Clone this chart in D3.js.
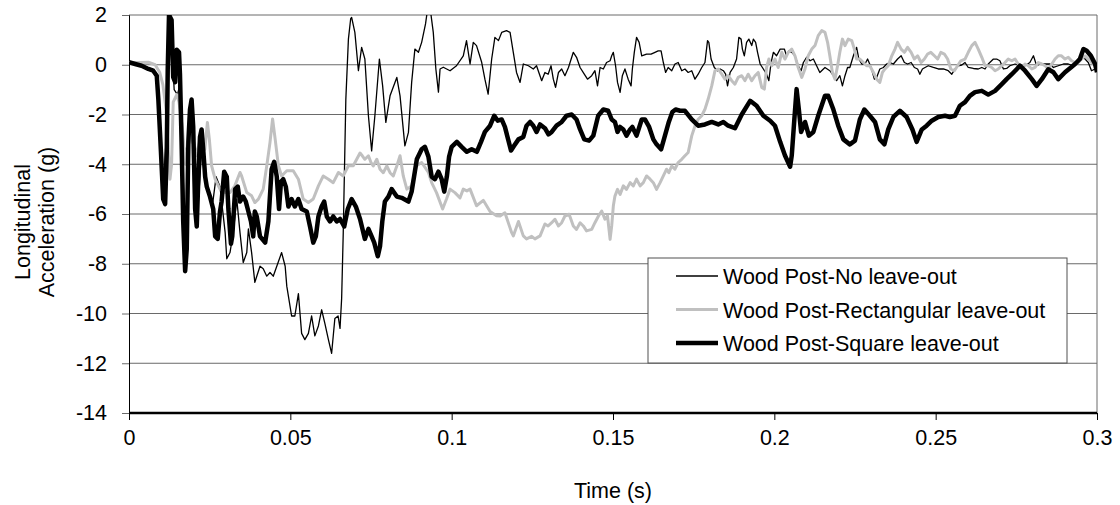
<!DOCTYPE html>
<html lang="en">
    <head>
        <meta charset="utf-8">
        <title>Longitudinal Acceleration</title>
        <script type="text/javascript" src="https://d3js.org/d3.v7.min.js"></script>
        <style type="text/css">
            body {
                margin: 0;
                background-color: #ffffff;
            }
            text {
                font-family: "Liberation Sans", Arial, sans-serif;
                font-size: 21.5px;
                fill: #000;
            }
        </style>
    </head>
    <body>
        <script type="text/javascript">

            // time in ms, acceleration in g
            var noLeaveOut = [[0,0.1],[3.9,0.0],[7.5,-0.2],[8.6,-0.5],[9.5,-2.5],[10.6,-5.0],[11.5,-3.0],[12.2,1.0],[13.0,1.5],[14.0,-1.0],[15.0,-1.2],[15.8,-0.8],[16.8,-4.5],[17.5,-7.5],[18.2,-5.0],[19.0,-2.0],[20.5,-4.5],[21.5,-5.5],[22.5,-3.5],[24.0,-4.8],[26.0,-5.5],[27.0,-4.5],[28.2,-4.9],[29.8,-6.75],[30.3,-7.8],[31.3,-7.55],[32.3,-6.75],[33.4,-5.4],[34.4,-6.75],[35.4,-7.95],[36.5,-7.55],[37.0,-6.6],[38.0,-7.55],[39.0,-8.75],[39.6,-8.5],[40.6,-8.1],[41.6,-8.2],[42.7,-8.5],[43.7,-8.35],[44.7,-8.5],[45.8,-8.1],[47.3,-7.55],[48.4,-8.1],[48.9,-8.9],[50.4,-10.1],[51.4,-10.1],[52.5,-9.2],[53.5,-10.8],[54.5,-11.05],[55.6,-10.8],[56.6,-10.1],[57.6,-10.9],[58.7,-10.5],[59.7,-9.85],[60.7,-10.4],[61.8,-11.05],[62.8,-11.6],[63.8,-10.2],[64.8,-10.1],[65.4,-10.6],[65.9,-9.4],[66.4,-6.75],[67.2,-1.4],[68.0,1.03],[68.7,1.85],[69.0,1.9],[70.0,1.3],[71.1,-0.24],[72.1,0.7],[73.1,0.23],[74.2,-2.05],[75.2,-3.46],[76.2,-2.05],[77.6,0.23],[78.6,-0.84],[79.6,-2.32],[80.9,-1.25],[83.0,-0.51],[84.0,-1.25],[85.5,-3.26],[86.6,-2.72],[87.6,-0.71],[88.6,0.63],[89.7,0.5],[90.7,0.9],[91.9,1.64],[92.6,2.3],[93.3,2.3],[94.3,1.3],[95.1,-0.17],[95.9,-1.1],[96.4,-0.17],[97.4,-0.1],[99.5,-0.24],[101.5,-0.04],[103.6,0.36],[104.6,0.97],[105.7,0.03],[106.7,0.9],[107.7,0.77],[109.3,0.1],[110.3,-0.58],[111.3,-1.18],[112.4,0.23],[113.4,1.1],[114.5,0.97],[115.5,1.3],[117.0,1.37],[118.1,1.3],[119.1,0.5],[120.1,-0.31],[121.2,-0.71],[122.2,0.03],[123.8,-0.04],[125.3,-0.17],[126.3,-0.04],[127.9,-0.64],[128.9,-0.31],[129.9,-0.38],[130.8,-0.04],[131.5,-0.58],[132.2,-0.91],[133.1,-0.31],[134.1,-0.17],[135.1,-0.44],[136.2,-0.11],[137.7,0.5],[138.7,0.3],[139.8,-0.11],[141.1,-0.38],[142.1,-0.58],[143.4,-0.44],[144.4,-0.24],[145.2,-0.85],[146.0,-0.11],[147.0,-0.17],[148.0,0.09],[149.1,0.16],[149.6,0.36],[150.1,0.5],[150.8,-0.04],[151.4,-0.71],[152.2,-1.11],[152.9,-0.44],[153.7,-0.17],[154.7,-0.58],[155.6,-0.85],[156.0,-0.17],[156.6,0.5],[157.3,1.1],[158.1,0.9],[158.9,0.36],[160.4,0.43],[161.8,0.43],[163.0,0.5],[164.0,0.56],[164.9,0.56],[165.6,0.09],[166.3,-0.31],[167.1,-0.11],[168.2,-0.24],[169.2,0.03],[170.2,0.09],[171.3,-0.24],[172.3,-0.17],[173.3,-0.31],[174.4,-0.24],[175.4,-0.58],[176.4,-0.38],[177.5,-0.11],[178.5,0.09],[179.3,0.97],[179.7,0.9],[180.4,0.23],[181.4,-0.11],[182.4,-0.24],[183.2,-0.17],[184.2,-0.24],[184.9,-0.38],[185.5,-0.85],[186.3,-0.31],[187.3,-0.11],[188.3,0.23],[189.0,1.1],[189.7,1.03],[190.1,0.63],[190.7,0.36],[191.4,0.9],[192.1,1.03],[193.0,0.77],[193.5,1.03],[194.2,0.9],[194.8,0.5],[195.6,0.03],[196.6,-0.17],[197.6,-0.38],[198.3,-0.64],[199.0,0.09],[199.7,0.5],[200.7,0.36],[201.8,0.63],[203.1,0.63],[203.8,0.36],[204.5,0.56],[205.4,0.5],[206.4,0.36],[207.4,-0.04],[208.3,-0.24],[209.0,0.09],[210.0,0.3],[211.1,0.16],[212.1,0.23],[213.1,-0.04],[214.1,-0.31],[215.7,-0.11],[217.2,-0.24],[218.3,-0.44],[219.3,-0.64],[220.3,-0.44],[221.1,-0.85],[221.9,-0.44],[222.7,-0.11],[223.4,-0.11],[224.5,0.36],[225.5,0.7],[226.2,0.23],[227.1,0.03],[228.1,0.03],[228.9,0.23],[230.0,-0.11],[231.0,-0.58],[231.7,-0.51],[232.7,-0.17],[233.8,-0.11],[234.8,0.03],[235.8,0.09],[236.9,0.03],[238.2,0.23],[239.3,0.36],[240.3,0.09],[241.3,0.03],[242.4,0.09],[243.4,-0.11],[244.4,-0.17],[245.1,-0.38],[245.9,-0.17],[246.7,-0.11],[247.7,-0.04],[249.3,-0.11],[250.8,-0.17],[252.4,-0.17],[253.9,-0.24],[255.0,-0.38],[256.0,-0.17],[257.0,-0.04],[258.1,-0.01],[259.1,0.09],[260.1,-0.11],[261.7,-0.15],[263.2,-0.17],[264.3,-0.11],[265.3,-0.17],[266.3,0.03],[267.9,0.23],[268.9,0.23],[269.9,0.16],[271.0,-0.17],[272.0,-0.15],[273.0,-0.04],[274.6,0.03],[276.1,-0.04],[277.7,-0.04],[279.2,0.09],[280.3,0.36],[281.3,-0.04],[282.3,0.03],[283.9,0.03],[285.4,0.03],[286.5,-0.11],[288.0,-0.04],[289.6,0.03],[291.1,0.03],[292.7,-0.04],[294.2,0.23],[295.8,0.3],[297.3,0.09],[298.3,-0.24],[299.4,-0.17],[300.0,-0.04]];

            var rectLeaveOut = [[0,0.09],[2.9,0.09],[6.0,0.1],[8.1,0.0],[9.5,-0.3],[10.5,-0.8],[11.5,-1.8],[12.2,-3.5],[12.7,-4.6],[13.2,-4.0],[13.7,-1.5],[14.8,-1.2],[15.5,-1.5],[16.5,-2.5],[17.5,-4.0],[17.9,-3.4],[19.5,-2.8],[21.0,-3.66],[22.5,-2.72],[23.5,-3.4],[24.3,-2.32],[24.9,-2.99],[25.6,-4.06],[26.7,-4.6],[28.2,-5.0],[29.8,-5.14],[31.3,-5.14],[32.8,-4.87],[34.4,-4.33],[34.9,-4.47],[36.5,-5.14],[38.0,-5.27],[39.0,-5.54],[40.1,-5.4],[41.6,-5.0],[42.7,-4.06],[43.7,-3.12],[44.5,-2.18],[45.3,-2.99],[46.3,-4.06],[47.3,-4.47],[48.9,-4.26],[50.9,-4.26],[52.5,-4.6],[54.0,-5.4],[55.6,-5.54],[57.1,-5.4],[58.7,-4.87],[60.2,-4.47],[61.8,-4.6],[63.3,-4.74],[64.9,-4.33],[66.4,-4.47],[68.0,-4.06],[69.5,-4.06],[71.6,-3.55],[72.3,-3.66],[73.1,-3.8],[74.2,-3.66],[75.0,-3.93],[75.7,-4.07],[76.8,-3.8],[77.8,-4.2],[78.8,-4.34],[79.9,-4.07],[80.9,-4.34],[81.9,-4.47],[83.0,-4.07],[84.0,-3.66],[85.0,-4.47],[86.1,-5.0],[87.6,-4.87],[89.1,-4.06],[90.7,-3.93],[92.8,-4.33],[93.8,-4.74],[95.3,-5.14],[97.2,-5.8],[98.4,-5.4],[99.5,-5.0],[101.0,-5.14],[102.6,-5.35],[103.6,-5.0],[104.7,-5.07],[105.7,-5.0],[107.7,-5.67],[109.8,-5.45],[111.9,-5.9],[113.9,-6.07],[115.0,-6.08],[116.5,-5.95],[118.6,-6.75],[119.1,-6.88],[120.7,-6.3],[122.2,-6.88],[123.2,-7.0],[124.8,-6.9],[125.8,-7.0],[127.4,-6.88],[128.9,-6.4],[129.9,-6.48],[131.0,-6.35],[132.0,-6.21],[133.1,-6.48],[134.1,-6.35],[135.1,-6.08],[136.4,-6.01],[137.7,-6.48],[138.7,-6.62],[139.8,-6.35],[140.8,-6.48],[141.8,-6.68],[143.4,-6.62],[144.4,-6.35],[145.5,-6.08],[146.5,-5.88],[147.5,-6.21],[148.3,-6.08],[149.1,-7.02],[149.6,-6.48],[150.1,-5.68],[150.6,-5.28],[151.4,-5.01],[152.2,-5.21],[153.2,-4.87],[154.2,-5.01],[155.3,-4.74],[156.3,-4.87],[157.3,-4.6],[158.4,-4.87],[159.4,-4.74],[160.4,-4.47],[161.5,-4.6],[162.5,-4.74],[163.5,-5.01],[164.6,-4.74],[165.6,-4.47],[166.6,-4.2],[167.3,-4.34],[168.2,-4.07],[169.2,-4.2],[170.2,-3.93],[171.3,-3.8],[172.3,-3.66],[173.3,-3.53],[174.4,-2.86],[175.4,-2.46],[176.4,-2.19],[177.5,-2.05],[178.5,-1.79],[179.5,-1.38],[180.6,-0.85],[181.6,-0.24],[182.6,-0.17],[183.7,-0.38],[184.7,-0.58],[185.7,-0.44],[186.8,-0.64],[187.8,-0.78],[188.8,-0.51],[189.9,-0.44],[190.9,-0.64],[191.9,-0.38],[193.0,-0.64],[194.0,-0.44],[195.0,-0.31],[196.1,-0.91],[196.9,-0.98],[197.6,-0.11],[198.3,0.23],[199.2,-0.04],[200.2,0.23],[201.2,-0.11],[202.3,0.5],[203.3,0.23],[204.3,0.5],[205.4,0.63],[206.4,0.36],[207.4,-0.11],[208.5,-0.51],[209.5,-0.17],[210.5,0.36],[211.6,0.63],[212.6,0.77],[213.6,1.17],[214.7,1.37],[215.7,1.3],[216.5,0.9],[217.2,0.36],[218.0,-0.31],[218.8,-0.58],[219.6,-0.04],[220.3,0.5],[221.1,1.03],[221.9,0.77],[222.9,1.03],[224.0,0.97],[224.8,0.63],[225.5,0.23],[226.5,0.23],[227.6,0.09],[228.6,-0.04],[229.6,-0.04],[230.7,-0.31],[231.7,-0.58],[232.7,-0.71],[233.5,-0.31],[234.3,-0.17],[235.3,-0.04],[236.4,0.36],[237.4,0.63],[238.2,0.9],[239.3,0.63],[240.3,0.5],[241.3,0.7],[242.4,0.5],[243.4,0.23],[244.4,0.36],[245.5,0.09],[246.5,0.23],[247.5,0.43],[248.5,0.5],[249.6,0.36],[250.6,0.23],[251.6,0.5],[252.7,0.43],[253.7,0.23],[254.7,-0.17],[255.8,-0.24],[256.8,-0.04],[257.8,0.16],[259.1,0.23],[260.1,0.5],[261.2,0.77],[262.2,0.9],[263.2,0.63],[264.3,0.3],[265.3,-0.04],[266.3,-0.04],[267.4,-0.11],[268.4,-0.24],[269.4,-0.17],[270.5,-0.04],[271.5,0.09],[272.5,0.23],[273.6,0.16],[274.6,0.23],[275.6,0.03],[276.7,-0.11],[277.7,0.03],[278.7,-0.04],[279.8,-0.17],[280.8,-0.11],[281.8,0.09],[282.9,0.03],[283.9,-0.04],[284.9,-0.17],[286.0,0.03],[287.0,0.23],[288.0,0.36],[289.0,0.36],[290.1,0.23],[291.1,0.3],[292.1,0.16],[293.2,0.09],[294.2,0.09],[295.2,0.23],[296.3,0.36],[297.3,0.23],[298.3,0.09],[300.0,-0.04]];

            var squareLeaveOut = [[0,0.1],[1.9,0.03],[3.9,-0.04],[6.0,-0.17],[7.5,-0.24],[8.6,-0.44],[9.1,-1.4],[9.9,-3.5],[10.6,-5.4],[11.2,-5.6],[11.7,-3.5],[12.0,-0.2],[12.4,2.0],[13.2,1.8],[13.7,-0.5],[14.3,-0.7],[14.8,0.6],[15.5,0.5],[15.8,-0.4],[16.3,-3.1],[16.8,-6.3],[17.4,-8.3],[17.9,-7.4],[18.4,-3.1],[18.9,-1.8],[19.4,-1.4],[19.9,-2.5],[20.5,-5.8],[21.0,-6.5],[21.5,-4.5],[22.0,-2.9],[22.5,-2.6],[23.0,-3.4],[23.6,-4.5],[24.1,-4.9],[25.1,-5.3],[26.1,-5.8],[26.7,-6.9],[27.5,-7.0],[28.2,-5.9],[28.7,-5.5],[29.5,-4.3],[30.3,-4.5],[30.8,-5.8],[31.6,-7.2],[32.0,-6.9],[32.9,-5.0],[33.7,-4.9],[34.4,-5.5],[35.4,-5.3],[36.2,-5.5],[37.0,-5.9],[37.8,-6.3],[38.5,-6.9],[39.0,-5.9],[39.6,-6.1],[40.6,-6.9],[42.2,-7.15],[43.2,-6.3],[44.2,-4.2],[45.0,-3.9],[45.8,-4.5],[46.5,-5.8],[47.1,-4.7],[47.8,-4.6],[48.6,-4.9],[49.4,-5.7],[50.4,-5.4],[51.4,-5.7],[52.5,-5.4],[53.5,-5.8],[55.1,-5.9],[56.1,-6.5],[57.1,-7.15],[57.9,-6.9],[58.7,-6.1],[59.7,-5.7],[60.5,-5.5],[61.3,-6.1],[62.3,-6.3],[63.3,-6.1],[64.4,-6.3],[65.4,-6.2],[66.7,-6.5],[67.8,-5.8],[69.0,-5.4],[70.3,-5.7],[71.6,-6.2],[73.1,-7.0],[74.2,-6.6],[75.2,-6.9],[76.0,-7.15],[77.1,-7.7],[77.8,-7.3],[78.5,-6.3],[79.3,-5.5],[80.4,-5.3],[81.4,-5.0],[83.0,-5.3],[84.5,-5.35],[86.6,-5.5],[87.6,-5.1],[89.2,-3.8],[90.7,-3.4],[91.7,-3.3],[92.8,-3.7],[93.8,-4.5],[94.8,-4.6],[95.9,-4.3],[96.9,-4.6],[97.7,-5.1],[98.5,-4.5],[99.2,-3.7],[100.0,-3.3],[101.6,-3.1],[103.1,-3.3],[104.7,-3.5],[106.2,-3.4],[107.8,-3.5],[109.1,-3.1],[110.3,-2.7],[111.9,-2.45],[113.2,-2.05],[114.3,-2.25],[115.5,-2.2],[116.5,-2.5],[117.6,-3.05],[118.4,-3.45],[119.4,-3.25],[120.7,-3.0],[122.2,-2.9],[123.2,-2.45],[124.3,-2.3],[125.3,-2.45],[126.3,-2.7],[127.4,-2.4],[128.9,-2.55],[130.0,-2.8],[131.0,-2.7],[132.5,-2.45],[134.1,-2.3],[135.6,-2.05],[137.2,-2.0],[138.7,-2.2],[139.8,-2.6],[141.1,-3.0],[142.6,-3.05],[143.9,-2.85],[145.4,-2.05],[147.0,-1.8],[148.5,-1.85],[149.6,-2.2],[150.6,-2.3],[151.4,-2.7],[152.2,-2.5],[153.2,-2.6],[154.2,-2.85],[155.3,-2.6],[156.0,-2.5],[157.3,-2.85],[158.9,-2.2],[159.9,-2.2],[161.2,-2.5],[162.5,-3.0],[163.5,-3.2],[164.9,-3.4],[166.1,-2.85],[167.3,-2.3],[168.4,-1.9],[169.4,-1.8],[170.8,-1.85],[172.3,-1.85],[174.4,-2.2],[176.4,-2.45],[178.5,-2.4],[180.6,-2.3],[182.6,-2.4],[184.2,-2.3],[185.7,-2.45],[187.8,-2.55],[189.9,-2.0],[192.5,-1.45],[194.5,-1.65],[196.6,-2.05],[198.7,-2.25],[200.2,-2.45],[201.8,-3.1],[203.3,-3.65],[204.9,-4.1],[205.4,-3.65],[206.2,-2.2],[206.9,-0.98],[207.6,-1.8],[208.3,-2.7],[209.5,-2.3],[210.7,-2.85],[212.1,-2.7],[213.6,-2.05],[215.7,-1.25],[216.7,-1.25],[218.3,-1.8],[219.8,-2.45],[221.4,-3.0],[223.4,-3.2],[225.0,-3.05],[226.5,-2.2],[227.9,-1.8],[229.6,-2.05],[231.2,-2.3],[232.7,-3.0],[234.1,-3.2],[235.3,-2.6],[236.9,-2.1],[238.9,-1.85],[241.0,-2.1],[242.8,-2.6],[244.1,-3.1],[245.7,-2.6],[247.2,-2.45],[248.8,-2.25],[250.8,-2.1],[252.9,-2.05],[254.4,-2.1],[256.0,-2.05],[257.5,-1.65],[259.1,-1.5],[260.6,-1.25],[262.2,-1.1],[264.3,-1.05],[266.3,-1.2],[268.4,-1.05],[270.5,-0.78],[272.0,-0.58],[273.6,-0.38],[275.1,-0.18],[276.1,-0.04],[277.7,-0.24],[279.8,-0.58],[281.3,-0.85],[282.9,-0.58],[284.9,-0.18],[286.5,-0.3],[288.0,-0.58],[290.1,-0.3],[292.0,-0.1],[293.2,0.03],[294.7,0.23],[295.8,0.63],[296.8,0.56],[298.1,0.36],[299.4,0.03],[300.0,-0.3]];

            var seriesNames = ["Wood Post-No leave-out", "Wood Post-Rectangular leave-out", "Wood Post-Square leave-out"];
            var xTicks = [0, 0.05, 0.1, 0.15, 0.2, 0.25, 0.3];
            var xTickLabels = ["0", "0.05", "0.1", "0.15", "0.2", "0.25", "0.3"];
            var yTicks = [2, 0, -2, -4, -6, -8, -10, -12, -14];

            var w = 1120;
            var h = 505;
            var plotLeft = 129, plotRight = 1097, plotTop = 15, plotBottom = 413;

            var svg = d3.select('body').append('svg').attr('width', w).attr('height', h);

            var x = d3.scaleLinear().domain([0, 0.3]).range([plotLeft, plotRight]);
            var y = d3.scaleLinear().domain([-14, 2]).range([plotBottom, plotTop]);

            svg.append('defs').append('clipPath').attr('id', 'plotClip')
                .append('rect')
                .attr('x', plotLeft).attr('y', plotTop)
                .attr('width', plotRight - plotLeft).attr('height', plotBottom - plotTop);

            // horizontal gridlines
            svg.append('g').selectAll('line')
                .data(yTicks.filter(function (d) { return d > -14; }))
                .enter().append('line')
                .attr('x1', plotLeft).attr('x2', plotRight)
                .attr('y1', function (d) { return y(d); })
                .attr('y2', function (d) { return y(d); })
                .attr('stroke', '#6a6a6a')
                .attr('stroke-width', 1);

            // right border of the plot area
            svg.append('line')
                .attr('x1', plotRight).attr('x2', plotRight)
                .attr('y1', plotTop).attr('y2', plotBottom)
                .attr('stroke', '#6a6a6a');

            // y axis
            var yAxis = d3.axisLeft(y).tickValues(yTicks).tickSize(7).tickPadding(15)
                .tickFormat(function (d) { return d; });
            var gy = svg.append('g').attr('transform', 'translate(' + plotLeft + ',0)').call(yAxis);
            gy.select('.domain').attr('stroke', '#000');
            gy.selectAll('.tick line').attr('stroke', '#6a6a6a');
            gy.selectAll('text').attr('font-size', null).attr('font-family', null);

            // x axis
            var xAxis = d3.axisBottom(x).tickValues(xTicks).tickSize(7).tickPadding(10)
                .tickFormat(function (d, i) { return xTickLabels[i]; });
            var gx = svg.append('g').attr('transform', 'translate(0,' + plotBottom + ')').call(xAxis);
            gx.select('.domain').remove();
            gx.selectAll('.tick line').attr('stroke', '#000');
            gx.selectAll('text').attr('font-size', null).attr('font-family', null);
            svg.append('line')
                .attr('x1', plotLeft).attr('x2', plotRight)
                .attr('y1', plotBottom).attr('y2', plotBottom)
                .attr('stroke', '#000').attr('stroke-width', 2.5);

            // axis titles
            svg.append('text')
                .attr('x', (plotLeft + plotRight) / 2).attr('y', 498)
                .attr('text-anchor', 'middle')
                .text('Time (s)');
            var yTitle = svg.append('text')
                .attr('transform', 'translate(30,222) rotate(-90)')
                .attr('text-anchor', 'middle');
            yTitle.append('tspan').attr('x', 0).attr('dy', 0).text('Longitudinal');
            yTitle.append('tspan').attr('x', 0).attr('dy', 24).text('Acceleration (g)');

            // series lines
            var line = d3.line()
                .x(function (d) { return x(d[0] / 1000); })
                .y(function (d) { return y(d[1]); });

            var styles = [
                { data: noLeaveOut, color: '#000000', width: 1.3 },
                { data: rectLeaveOut, color: '#c0c0c0', width: 3 },
                { data: squareLeaveOut, color: '#000000', width: 4.5 }
            ];

            var lines = svg.append('g').attr('clip-path', 'url(#plotClip)');
            styles.forEach(function (s) {
                lines.append('path')
                    .datum(s.data)
                    .attr('d', line)
                    .attr('fill', 'none')
                    .attr('stroke', s.color)
                    .attr('stroke-width', s.width)
                    .attr('stroke-linejoin', 'round');
            });

            // legend
            var legend = svg.append('g').attr('transform', 'translate(648,258)');
            legend.append('rect')
                .attr('x', 0).attr('y', 0).attr('width', 419).attr('height', 105)
                .attr('fill', '#fff').attr('stroke', '#505050');
            styles.forEach(function (s, i) {
                var ly = 18 + i * 33.5;
                legend.append('line')
                    .attr('x1', 28).attr('x2', 70)
                    .attr('y1', ly).attr('y2', ly)
                    .attr('stroke', s.color)
                    .attr('stroke-width', s.width);
                legend.append('text')
                    .attr('x', 75).attr('y', ly + 8)
                    .text(seriesNames[i]);
            });

        </script>
    </body>
</html>
